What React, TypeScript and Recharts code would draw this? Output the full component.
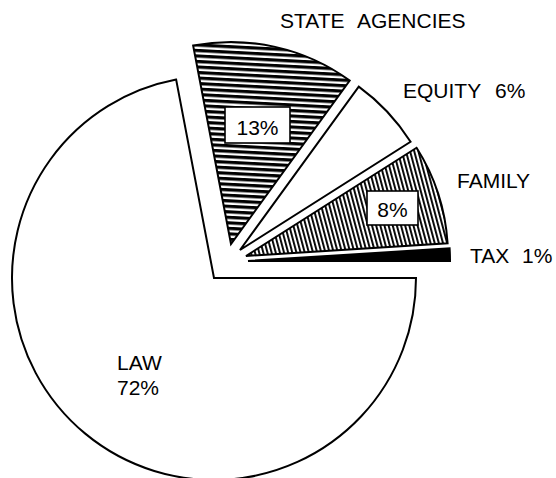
import React from "react";
import { PieChart, Pie, Cell, Sector } from "recharts";

const categories = ["TAX", "FAMILY", "EQUITY", "STATE AGENCIES", "LAW"];
const shares = [1, 8, 6, 13, 72];

const data = categories.map((name, i) => ({ name, value: shares[i] }));

const FILLS: Record<string, string> = {
  TAX: "#000",
  FAMILY: "url(#vlines)",
  EQUITY: "#fff",
  "STATE AGENCIES": "url(#hlines)",
  LAW: "#fff",
};

// how far each small slice is pulled out from the centre
const EXPLODE: Record<string, [number, number]> = {
  TAX: [34, -17],
  FAMILY: [32, -22],
  EQUITY: [26, -28],
  "STATE AGENCIES": [17, -34],
  LAW: [0, 0],
};

const FONT = "'Liberation Sans', Arial, sans-serif";
const txt = { fontFamily: FONT, fontSize: 21, fill: "#000", stroke: "none" } as const;

function ExplodedSector(props: any) {
  const name = props.name ?? props.payload?.name;
  const [dx, dy] = EXPLODE[name] || [0, 0];
  return <Sector {...props} cx={props.cx + dx} cy={props.cy + dy} />;
}

function Boxed({ x, y, w, h, text }: { x: number; y: number; w: number; h: number; text: string }) {
  return (
    <g>
      <rect x={x} y={y} width={w} height={h} fill="#fff" stroke="#000" strokeWidth={1.6} />
      <text {...txt} x={x + w / 2} y={y + h - 8} textAnchor="middle">
        {text}
      </text>
    </g>
  );
}

function renderLabel(props: any) {
  const name = props.name ?? props.payload?.name;
  const pct = `${props.value}%`;
  switch (name) {
    case "STATE AGENCIES":
      return (
        <g>
          <text {...txt} y={28}>
            <tspan x={280}>STATE</tspan>
            <tspan x={357}>AGENCIES</tspan>
          </text>
          <Boxed x={225} y={107} w={65} h={36} text={pct} />
        </g>
      );
    case "EQUITY":
      return (
        <text {...txt} y={98}>
          <tspan x={403}>EQUITY</tspan>
          <tspan x={495}>{pct}</tspan>
        </text>
      );
    case "FAMILY":
      return (
        <g>
          <text {...txt} x={457} y={188}>
            FAMILY
          </text>
          <Boxed x={367} y={191} w={51} h={34} text={pct} />
        </g>
      );
    case "TAX":
      return (
        <text {...txt} y={263}>
          <tspan x={470}>TAX</tspan>
          <tspan x={522}>{pct}</tspan>
        </text>
      );
    case "LAW":
      return (
        <text {...txt}>
          <tspan x={117} y={370}>LAW</tspan>
          <tspan x={117} y={395}>{pct}</tspan>
        </text>
      );
    default:
      return null;
  }
}

export default function App() {
  return (
    <div style={{ position: "absolute", left: 0, top: 0, width: 556, height: 478, background: "#fff" }}>
      <svg width={0} height={0} style={{ position: "absolute" }}>
        <defs>
          <pattern id="hlines" patternUnits="userSpaceOnUse" width={10} height={5.5} patternTransform="rotate(3)">
            <rect width={10} height={5.5} fill="#fff" />
            <rect width={10} height={3.2} fill="#000" />
          </pattern>
          <pattern id="vlines" patternUnits="userSpaceOnUse" width={4} height={10} patternTransform="rotate(-15)">
            <rect width={4} height={10} fill="#fff" />
            <rect width={1.9} height={10} fill="#000" />
          </pattern>
        </defs>
      </svg>
      <PieChart width={556} height={478} margin={{ top: 0, right: 0, bottom: 0, left: 0 }}>
        <Pie
          data={data}
          dataKey="value"
          nameKey="name"
          cx={214}
          cy={278}
          innerRadius={0}
          outerRadius={202}
          startAngle={0}
          endAngle={360}
          stroke="#000"
          strokeWidth={2}
          shape={ExplodedSector}
          activeShape={ExplodedSector}
          inactiveShape={ExplodedSector}
          label={renderLabel}
          labelLine={false}
          isAnimationActive={false}
        >
          {data.map((d) => (
            <Cell key={d.name} fill={FILLS[d.name]} />
          ))}
        </Pie>
      </PieChart>
    </div>
  );
}
